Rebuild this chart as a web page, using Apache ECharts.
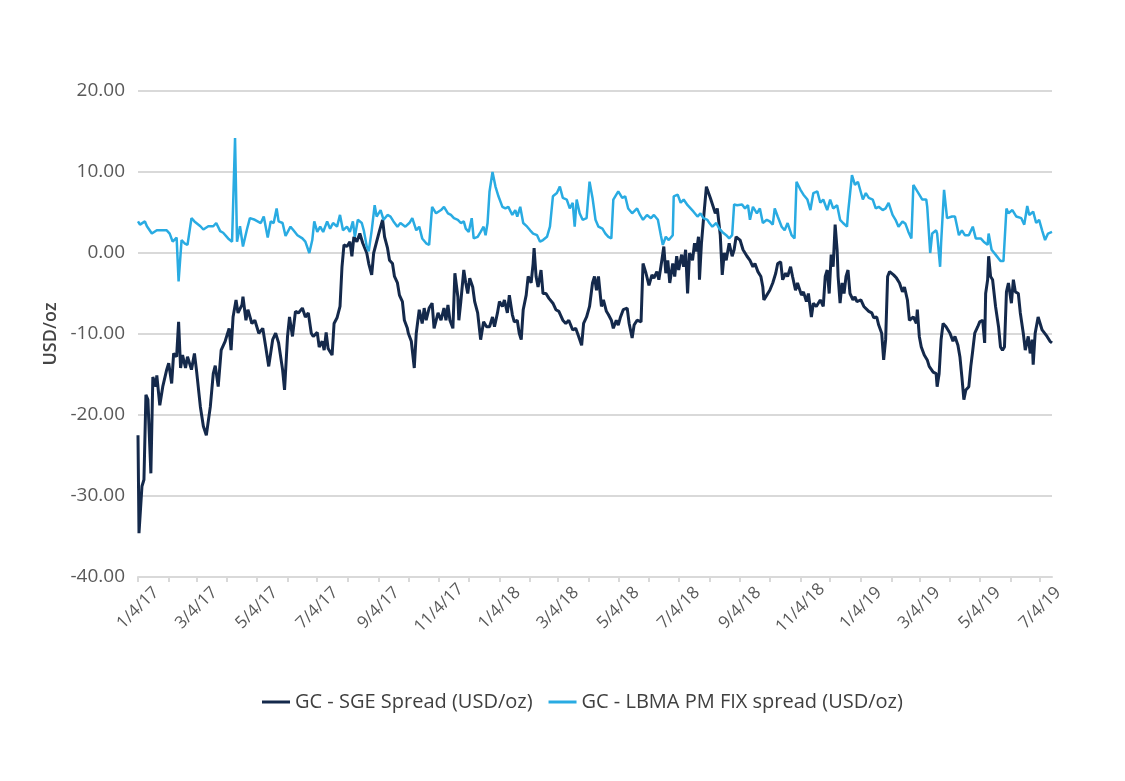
<!DOCTYPE html>
<html>
<head>
<meta charset="utf-8">
<script src="https://cdn.jsdelivr.net/npm/echarts@6/dist/echarts.min.js"></script>
<style>
  html, body { margin: 0; padding: 0; background: #fff; }
  #chart { width: 1125px; height: 781px; }
</style>
</head>
<body>
<div id="chart"></div>
<script>
const seriesNames = ['GC - SGE Spread (USD/oz)', 'GC - LBMA PM FIX spread (USD/oz)']
const axisStart = '2017-01-04'
const axisEnd = '2019-07-16'
const yMin = -40
const yMax = 20
const yStep = 10

// GC - SGE spread
const sgeDates = [
  '2017-01-04','2017-01-05','2017-01-08','2017-01-10','2017-01-12','2017-01-14','2017-01-17','2017-01-19','2017-01-22','2017-01-23','2017-01-26','2017-01-29',
  '2017-02-02','2017-02-04','2017-02-07','2017-02-09','2017-02-12','2017-02-14','2017-02-16','2017-02-18','2017-02-21','2017-02-23','2017-02-27',
  '2017-03-02','2017-03-04','2017-03-08','2017-03-11','2017-03-14','2017-03-18','2017-03-21','2017-03-23','2017-03-26','2017-03-29',
  '2017-04-02','2017-04-06','2017-04-08','2017-04-10','2017-04-13','2017-04-15','2017-04-19','2017-04-20','2017-04-23','2017-04-25','2017-04-29',
  '2017-05-02','2017-05-06','2017-05-10','2017-05-13','2017-05-16','2017-05-20','2017-05-23','2017-05-26','2017-05-30',
  '2017-06-01','2017-06-04','2017-06-06','2017-06-09','2017-06-12','2017-06-15','2017-06-19','2017-06-22','2017-06-25','2017-06-28','2017-06-30',
  '2017-07-04','2017-07-06','2017-07-09','2017-07-11','2017-07-13','2017-07-15','2017-07-19','2017-07-21','2017-07-24','2017-07-27','2017-07-29','2017-07-31',
  '2017-08-03','2017-08-06','2017-08-08','2017-08-10','2017-08-13','2017-08-16','2017-08-19','2017-08-23','2017-08-25','2017-08-28','2017-08-30',
  '2017-09-02','2017-09-05','2017-09-08','2017-09-10','2017-09-13','2017-09-15','2017-09-18','2017-09-20','2017-09-23','2017-09-25','2017-09-28','2017-09-30',
  '2017-10-03','2017-10-04','2017-10-07','2017-10-08','2017-10-10','2017-10-12','2017-10-15','2017-10-18','2017-10-20','2017-10-22','2017-10-25','2017-10-28','2017-10-30',
  '2017-11-03','2017-11-06','2017-11-09','2017-11-11','2017-11-13','2017-11-15','2017-11-18','2017-11-20','2017-11-23','2017-11-24','2017-11-26','2017-11-29',
  '2017-12-01','2017-12-03','2017-12-05','2017-12-08','2017-12-10','2017-12-13','2017-12-16','2017-12-19','2017-12-22','2017-12-25','2017-12-28','2017-12-30',
  '2018-01-02','2018-01-04','2018-01-07','2018-01-09','2018-01-12','2018-01-14','2018-01-17','2018-01-19','2018-01-22','2018-01-24','2018-01-26','2018-01-28','2018-01-31',
  '2018-02-02','2018-02-05','2018-02-07','2018-02-08','2018-02-10','2018-02-12','2018-02-15','2018-02-17','2018-02-20','2018-02-23','2018-02-27',
  '2018-03-02','2018-03-05','2018-03-09','2018-03-12','2018-03-15','2018-03-19','2018-03-22','2018-03-25','2018-03-28','2018-03-30',
  '2018-04-02','2018-04-05','2018-04-08','2018-04-10','2018-04-12','2018-04-14','2018-04-17','2018-04-19','2018-04-22','2018-04-24','2018-04-27','2018-04-29',
  '2018-05-02','2018-05-04','2018-05-06','2018-05-09','2018-05-13','2018-05-15','2018-05-18','2018-05-20','2018-05-23','2018-05-27','2018-05-29',
  '2018-06-01','2018-06-04','2018-06-07','2018-06-09','2018-06-12','2018-06-14','2018-06-17','2018-06-19','2018-06-21','2018-06-23','2018-06-25','2018-06-28','2018-06-30',
  '2018-07-02','2018-07-04','2018-07-07','2018-07-09','2018-07-11','2018-07-13','2018-07-15','2018-07-18','2018-07-20','2018-07-22','2018-07-24','2018-07-25','2018-07-27','2018-07-29',
  '2018-08-01','2018-08-02','2018-08-05','2018-08-07','2018-08-10','2018-08-12','2018-08-15','2018-08-17','2018-08-19','2018-08-21','2018-08-24','2018-08-27','2018-08-29','2018-08-31',
  '2018-09-04','2018-09-07','2018-09-09','2018-09-11','2018-09-14','2018-09-17','2018-09-19','2018-09-22','2018-09-25','2018-09-27','2018-09-28',
  '2018-10-01','2018-10-04','2018-10-07','2018-10-10','2018-10-12','2018-10-15','2018-10-17','2018-10-20','2018-10-22','2018-10-25','2018-10-27','2018-10-30',
  '2018-11-01','2018-11-05','2018-11-07','2018-11-10','2018-11-12','2018-11-15','2018-11-17','2018-11-20','2018-11-22','2018-11-24','2018-11-27','2018-11-29',
  '2018-12-01','2018-12-03','2018-12-05','2018-12-07','2018-12-09','2018-12-11','2018-12-12','2018-12-14','2018-12-16','2018-12-18','2018-12-20','2018-12-22','2018-12-24','2018-12-27','2018-12-29','2018-12-31',
  '2019-01-04','2019-01-07','2019-01-09','2019-01-12','2019-01-15','2019-01-17','2019-01-20','2019-01-22','2019-01-25','2019-01-27','2019-01-29','2019-01-31',
  '2019-02-02','2019-02-06','2019-02-09','2019-02-12','2019-02-15','2019-02-17','2019-02-20','2019-02-22','2019-02-26',
  '2019-03-01','2019-03-02','2019-03-04','2019-03-06','2019-03-09','2019-03-12','2019-03-14','2019-03-16','2019-03-18','2019-03-21','2019-03-22','2019-03-24','2019-03-26','2019-03-28','2019-03-31',
  '2019-04-04','2019-04-07','2019-04-09','2019-04-12','2019-04-14','2019-04-16','2019-04-18','2019-04-20','2019-04-23','2019-04-25','2019-04-27','2019-04-29',
  '2019-05-02','2019-05-04','2019-05-07','2019-05-09','2019-05-10','2019-05-12','2019-05-13','2019-05-15','2019-05-17','2019-05-20','2019-05-23','2019-05-25','2019-05-27','2019-05-29','2019-05-31',
  '2019-06-02','2019-06-05','2019-06-07','2019-06-09','2019-06-12','2019-06-14','2019-06-17','2019-06-19','2019-06-22','2019-06-24','2019-06-26','2019-06-27','2019-06-29',
  '2019-07-02','2019-07-03','2019-07-06','2019-07-08','2019-07-11','2019-07-14','2019-07-16'
]
const sgeValues = [
  -22.5,-34.6,-28.8,-28.0,-17.5,-18.1,-27.2,-15.3,-16.5,-15.1,-18.8,-16.5,
  -14.4,-13.6,-16.1,-12.4,-12.8,-8.5,-14.2,-12.6,-14.2,-12.8,-14.4,
  -12.4,-14.4,-19.0,-21.4,-22.5,-19.0,-14.9,-13.9,-16.5,-12.0,
  -10.9,-9.3,-12.0,-7.9,-5.8,-7.4,-6.4,-5.4,-8.3,-7.0,-8.7,
  -8.3,-9.9,-9.3,-11.6,-14.0,-10.7,-9.9,-11.1,-14.4,
  -16.9,-10.3,-7.9,-10.3,-7.2,-7.4,-6.8,-7.9,-7.4,-9.9,-10.3,
  -9.8,-11.6,-10.9,-12.0,-9.8,-11.8,-12.6,-8.7,-8.0,-6.6,-1.7,1.0,
  0.8,1.4,-0.4,2.0,1.4,2.4,1.2,0.0,-1.3,-2.7,0.0,
  1.4,2.8,4.1,2.0,0.6,-0.9,-1.3,-2.9,-3.7,-5.2,-6.0,-8.3,
  -9.3,-9.9,-10.9,-11.1,-14.2,-9.9,-7.0,-8.7,-6.8,-8.3,-6.8,-6.2,-9.3,
  -7.4,-8.3,-6.8,-8.3,-6.4,-8.3,-9.3,-2.5,-5.4,-8.3,-6.0,-2.1,
  -3.7,-5.0,-3.1,-4.2,-6.0,-7.4,-10.7,-8.5,-9.1,-9.1,-7.9,-9.1,
  -7.4,-6.0,-6.6,-5.8,-7.4,-5.2,-7.6,-8.5,-8.3,-9.9,-10.7,-7.0,-5.2,
  -2.9,-3.7,-1.3,0.6,-2.9,-4.2,-2.1,-5.0,-5.0,-5.6,-6.2,
  -7.0,-7.2,-8.3,-8.7,-8.3,-9.5,-9.3,-10.3,-11.4,-8.7,
  -7.9,-6.6,-3.7,-2.9,-4.6,-2.9,-6.6,-5.8,-7.2,-7.6,-8.3,-9.3,
  -8.3,-8.9,-8.0,-7.0,-6.8,-8.7,-10.5,-8.9,-8.3,-8.5,-1.3,
  -2.5,-4.0,-2.7,-3.1,-2.3,-3.3,-0.9,0.8,-2.5,-0.9,-3.7,-1.3,-2.9,
  -0.4,-2.1,-0.2,-1.7,0.4,-5.0,0.0,-0.9,1.2,0.2,2.0,-3.3,1.2,4.1,
  8.2,7.8,6.8,6.6,4.9,5.5,2.2,-2.7,0.0,-0.9,1.2,-0.4,0.4,2.0,
  1.6,0.4,0.2,-0.4,-0.9,-1.7,-1.3,-2.3,-2.9,-4.2,-5.8,
  -5.2,-4.6,-3.7,-2.5,-1.3,-1.1,-3.3,-2.5,-2.9,-1.7,-2.9,-4.6,
  -3.7,-5.2,-4.8,-6.0,-5.0,-7.9,-6.2,-6.6,-6.6,-5.8,-6.6,-2.9,
  -2.1,-5.0,-0.2,-1.7,3.5,0.4,-2.9,-6.2,-3.7,-5.0,-2.9,-2.1,-5.0,-5.8,-5.4,-6.0,
  -5.8,-6.6,-6.4,-7.2,-7.4,-8.0,-7.9,-8.9,-9.9,-13.2,-10.7,-2.9,
  -2.3,-2.7,-3.1,-3.7,-4.8,-4.2,-5.8,-8.3,-7.9,
  -8.7,-7.0,-10.3,-11.6,-12.6,-13.2,-14.0,-13.8,-14.7,-14.9,-16.5,-14.9,-10.7,-8.7,-9.1,
  -9.9,-10.9,-10.3,-11.4,-12.8,-15.3,-18.1,-16.9,-16.5,-14.0,-12.0,-9.9,
  -9.1,-8.5,-8.3,-11.1,-5.0,-3.3,-0.4,-2.9,-3.3,-6.6,-9.1,-11.6,-12.0,-11.6,-4.8,
  -3.7,-6.2,-3.3,-4.8,-5.0,-7.4,-9.9,-12.0,-10.3,-12.4,-10.7,-13.8,-9.9,
  -7.9,-8.3,-9.5,-9.3,-10.3,-10.9,-11.1
]

// GC - LBMA PM FIX spread
const lbmaDates = [
  '2017-01-04','2017-01-06','2017-01-11','2017-01-13','2017-01-18','2017-01-23','2017-01-28',
  '2017-02-02','2017-02-05','2017-02-08','2017-02-12','2017-02-14','2017-02-17','2017-02-20','2017-02-23','2017-02-27',
  '2017-03-02','2017-03-04','2017-03-08','2017-03-11','2017-03-16','2017-03-21','2017-03-24','2017-03-28','2017-03-31',
  '2017-04-05','2017-04-09','2017-04-12','2017-04-14','2017-04-17','2017-04-20','2017-04-24','2017-04-27',
  '2017-05-02','2017-05-08','2017-05-11','2017-05-15','2017-05-18','2017-05-21','2017-05-24','2017-05-26','2017-05-30',
  '2017-06-02','2017-06-07','2017-06-10','2017-06-14','2017-06-19','2017-06-22','2017-06-26','2017-06-29',
  '2017-07-01','2017-07-04','2017-07-07','2017-07-10','2017-07-14','2017-07-17','2017-07-20','2017-07-24','2017-07-27','2017-07-30',
  '2017-08-03','2017-08-06','2017-08-09','2017-08-11','2017-08-14','2017-08-18','2017-08-20','2017-08-23','2017-08-25','2017-08-28','2017-08-31',
  '2017-09-02','2017-09-06','2017-09-09','2017-09-13','2017-09-16','2017-09-19','2017-09-23','2017-09-26',
  '2017-10-01','2017-10-05','2017-10-08','2017-10-12','2017-10-15','2017-10-18','2017-10-22','2017-10-25','2017-10-28',
  '2017-11-01','2017-11-06','2017-11-09','2017-11-13','2017-11-16','2017-11-19','2017-11-23','2017-11-26','2017-11-29',
  '2017-12-01','2017-12-04','2017-12-07','2017-12-09','2017-12-13','2017-12-16','2017-12-19','2017-12-21','2017-12-23','2017-12-25','2017-12-28','2017-12-31',
  '2018-01-03','2018-01-07','2018-01-10','2018-01-13','2018-01-17','2018-01-20','2018-01-22','2018-01-25','2018-01-28',
  '2018-02-01','2018-02-04','2018-02-07','2018-02-11','2018-02-14','2018-02-17','2018-02-21','2018-02-24','2018-02-27',
  '2018-03-03','2018-03-06','2018-03-09','2018-03-13','2018-03-16','2018-03-19','2018-03-21','2018-03-23','2018-03-26','2018-03-29',
  '2018-04-02','2018-04-05','2018-04-08','2018-04-11','2018-04-14','2018-04-18','2018-04-21','2018-04-24','2018-04-27','2018-04-29',
  '2018-05-01','2018-05-04','2018-05-08','2018-05-11','2018-05-14','2018-05-18','2018-05-23','2018-05-26','2018-05-29',
  '2018-06-02','2018-06-06','2018-06-09','2018-06-13','2018-06-16','2018-06-18','2018-06-21','2018-06-24','2018-06-28','2018-06-29',
  '2018-07-03','2018-07-06','2018-07-09','2018-07-13','2018-07-16','2018-07-19','2018-07-23','2018-07-26','2018-07-29',
  '2018-08-02','2018-08-04','2018-08-07','2018-08-11','2018-08-14','2018-08-17','2018-08-21','2018-08-24','2018-08-27','2018-08-29',
  '2018-09-01','2018-09-06','2018-09-09','2018-09-12','2018-09-14','2018-09-17','2018-09-21','2018-09-24','2018-09-27',
  '2018-10-01','2018-10-04','2018-10-07','2018-10-09','2018-10-12','2018-10-16','2018-10-19','2018-10-22','2018-10-26','2018-10-29','2018-10-31',
  '2018-11-04','2018-11-07','2018-11-11','2018-11-14','2018-11-17','2018-11-21','2018-11-24','2018-11-27',
  '2018-12-01','2018-12-04','2018-12-07','2018-12-11','2018-12-14','2018-12-17','2018-12-21','2018-12-22','2018-12-26','2018-12-29',
  '2019-01-01','2019-01-06','2019-01-09','2019-01-12','2019-01-16','2019-01-19','2019-01-22','2019-01-26','2019-01-29',
  '2019-02-01','2019-02-05','2019-02-08','2019-02-11','2019-02-15','2019-02-18','2019-02-21','2019-02-24','2019-02-26',
  '2019-03-02','2019-03-04','2019-03-07','2019-03-11','2019-03-12','2019-03-15','2019-03-17','2019-03-21','2019-03-22','2019-03-25','2019-03-26','2019-03-29',
  '2019-04-01','2019-04-06','2019-04-09','2019-04-13','2019-04-16','2019-04-19','2019-04-23','2019-04-27','2019-04-30',
  '2019-05-05','2019-05-08','2019-05-12','2019-05-13','2019-05-16','2019-05-20','2019-05-25','2019-05-28','2019-05-31',
  '2019-06-02','2019-06-06','2019-06-10','2019-06-15','2019-06-18','2019-06-21','2019-06-23','2019-06-27','2019-06-30',
  '2019-07-03','2019-07-06','2019-07-09','2019-07-12','2019-07-16'
]
const lbmaValues = [
  3.9,3.5,3.9,3.3,2.4,2.8,2.8,
  2.8,2.4,1.4,1.9,-3.5,1.6,1.2,1.0,4.3,
  3.9,4.1,3.3,2.9,3.3,3.3,3.7,2.7,2.5,
  1.8,1.4,14.2,1.4,3.3,0.8,2.9,4.3,
  4.1,3.7,4.5,1.9,3.9,3.7,5.5,3.9,3.7,
  2.1,3.25,2.8,2.2,1.8,1.4,0.0,1.6,
  3.9,2.6,3.25,2.6,3.9,3.0,3.7,3.25,4.7,2.8,
  3.25,2.6,3.9,2.0,4.1,3.7,2.8,0.8,0.2,2.8,5.9,
  4.5,5.3,4.1,4.7,4.5,3.9,3.25,3.7,
  3.25,3.7,4.3,2.8,3.25,1.8,1.2,1.0,5.7,
  4.9,5.3,5.7,4.9,4.7,4.3,4.1,3.7,3.9,
  3.0,2.6,4.3,1.8,2.0,2.6,3.25,2.2,3.7,7.6,10.0,8.2,
  7.0,5.7,5.5,5.7,4.7,5.3,4.5,5.7,3.7,
  3.25,2.8,2.4,2.2,1.4,1.6,2.0,3.25,7.0,
  7.4,8.2,6.8,6.6,5.5,6.2,3.25,6.6,4.9,4.1,
  4.3,8.8,6.8,4.1,3.25,3.0,2.4,2.0,1.8,6.6,
  6.8,7.6,6.8,7.0,5.5,4.9,5.5,4.7,4.1,
  4.7,4.3,4.7,4.1,2.2,1.0,2.0,1.6,2.2,7.0,
  7.2,6.2,6.6,5.9,5.5,5.1,4.5,4.9,4.3,
  4.1,3.7,3.25,3.7,3.0,2.6,2.2,1.8,2.2,6.0,
  5.9,6.0,5.5,5.9,4.1,5.7,4.9,5.5,3.7,
  4.1,3.9,3.5,5.5,4.5,3.25,2.8,3.7,2.2,1.8,8.8,
  7.8,7.2,6.6,5.3,7.4,7.6,6.2,6.6,
  5.3,6.6,5.5,5.9,4.1,3.7,3.25,4.9,9.6,8.4,
  8.8,6.6,7.4,6.8,6.6,5.5,5.7,5.3,5.5,
  6.2,4.7,4.1,3.25,3.9,3.6,2.6,1.8,8.4,
  7.6,7.2,6.6,6.6,5.7,0.0,2.4,2.8,2.4,-1.7,1.2,7.8,
  4.3,4.5,4.5,2.2,2.8,2.2,2.2,3.25,1.8,
  1.8,1.4,1.0,2.4,0.4,-0.2,-1.0,-1.0,5.5,
  4.9,5.3,4.5,4.3,3.5,5.8,4.7,5.1,3.7,
  4.1,2.8,1.6,2.4,2.6
]

function pad(n) { return n < 10 ? '0' + n : '' + n }
function isoDay(d) { return d.getFullYear() + '-' + pad(d.getMonth() + 1) + '-' + pad(d.getDate()) }
function parseDay(s) { const p = s.split('-'); return new Date(+p[0], +p[1] - 1, +p[2]) }

// one category per calendar day, only used to place the ticks and the labels
const dayCategories = []
for (let d = parseDay(axisStart); d <= parseDay(axisEnd); d.setDate(d.getDate() + 1)) {
  dayCategories.push(isoDay(d))
}
const isTickDay = v => v.slice(8) === '04'
const isLabelDay = v => isTickDay(v) && (+v.slice(5, 7)) % 2 === 1

const gridColor = '#d9d9d9'
const textColor = '#595959'
const fontFamily = '"Open Sans", "Noto Sans", sans-serif'

const chart = echarts.init(document.getElementById('chart'), null, { renderer: 'canvas' })
chart.setOption({
  animation: false,
  backgroundColor: '#fff',
  textStyle: { fontFamily },
  grid: { left: 138, right: 73, top: 91, bottom: 204 },
  legend: {
    data: seriesNames,
    left: 257,
    top: 687,
    icon: 'rect',
    itemWidth: 28,
    itemHeight: 3,
    itemGap: 16,
    textStyle: { fontSize: 20, color: '#404040', fontFamily }
  },
  xAxis: [
    {
      type: 'time',
      min: parseDay(axisStart).getTime(),
      max: parseDay(axisEnd).getTime(),
      show: false
    },
    {
      type: 'category',
      data: dayCategories,
      position: 'bottom',
      boundaryGap: false,
      axisLine: { show: false, onZero: false },
      axisTick: { show: false },
      splitLine: { show: false },
      axisLabel: {
        interval: (i, v) => isLabelDay(v),
        formatter: v => {
          const d = parseDay(v)
          return (d.getMonth() + 1) + '/' + d.getDate() + '/' + String(d.getFullYear()).slice(2)
        },
        rotate: 45,
        align: 'center',
        verticalAlign: 'middle',
        margin: 31,
        color: textColor,
        fontSize: 17,
        fontFamily
      }
    },
    {
      type: 'category',
      data: dayCategories,
      position: 'bottom',
      boundaryGap: false,
      axisLine: { onZero: true, lineStyle: { color: gridColor, width: 2 } },
      axisTick: { interval: (i, v) => isTickDay(v), length: 5, lineStyle: { color: gridColor, width: 2 } },
      axisLabel: { show: false },
      splitLine: { show: false }
    }
  ],
  yAxis: {
    type: 'value',
    min: yMin,
    max: yMax,
    interval: yStep,
    name: 'USD/oz',
    nameLocation: 'middle',
    nameGap: 76,
    nameTextStyle: { fontSize: 18, color: '#444', fontWeight: 600, fontFamily },
    axisLine: { show: false },
    axisTick: { show: false },
    axisLabel: {
      formatter: v => v.toFixed(2),
      margin: 13,
      color: textColor,
      fontSize: 19,
      fontFamily
    },
    splitLine: { lineStyle: { color: gridColor, width: 2 } }
  },
  series: [
    {
      name: seriesNames[0],
      type: 'line',
      xAxisIndex: 0,
      showSymbol: false,
      symbol: 'none',
      data: sgeDates.map((d, i) => [d, sgeValues[i]]),
      lineStyle: { color: '#14294b', width: 3 },
      itemStyle: { color: '#14294b' }
    },
    {
      name: seriesNames[1],
      type: 'line',
      xAxisIndex: 0,
      showSymbol: false,
      symbol: 'none',
      data: lbmaDates.map((d, i) => [d, lbmaValues[i]]),
      lineStyle: { color: '#29abe2', width: 2.5 },
      itemStyle: { color: '#29abe2' }
    }
  ]
})
</script>
</body>
</html>
